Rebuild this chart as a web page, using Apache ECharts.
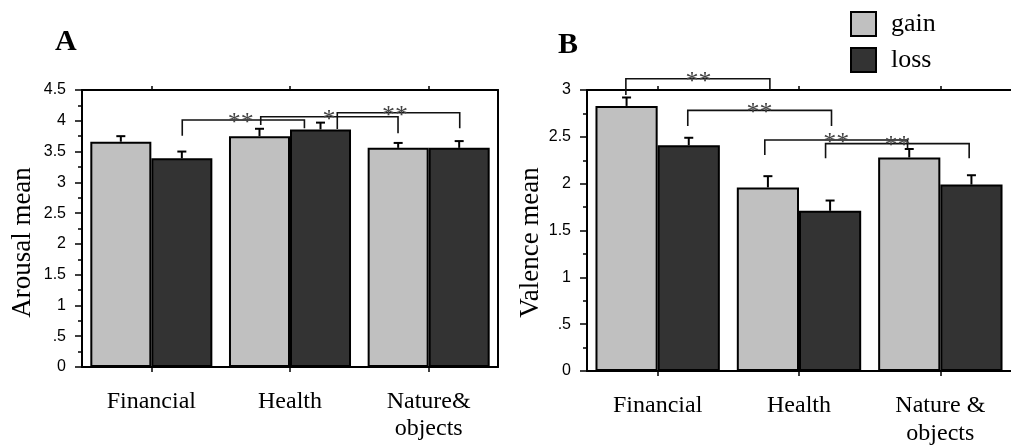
<!DOCTYPE html>
<html>
<head>
<meta charset="utf-8">
<script src="https://cdn.jsdelivr.net/npm/echarts@6/dist/echarts.min.js"></script>
<style>
  html, body { margin: 0; padding: 0; background: #fff; }
  #chart { width: 1011px; height: 448px; }
</style>
</head>
<body>
<div id="chart"></div>
<script>
// Categories for the two panels
const categoriesA = ['Financial', 'Health', 'Nature&\nobjects'];
const categoriesB = ['Financial', 'Health', 'Nature &\nobjects'];
const seriesNames = ['gain', 'loss'];

// Panel A: arousal means and upper error bars
const arousalGain = [3.66, 3.75, 3.56];
const arousalLoss = [3.39, 3.86, 3.56];
const arousalGainErr = [0.09, 0.12, 0.08];
const arousalLossErr = [0.11, 0.11, 0.11];

// Panel B: valence means and upper error bars
const valenceGain = [2.83, 1.96, 2.28];
const valenceLoss = [2.41, 1.71, 1.99];
const valenceGainErr = [0.09, 0.12, 0.09];
const valenceLossErr = [0.08, 0.11, 0.10];

// Y axis ranges
const arousalMax = 4.5;
const valenceMax = 3;
const tickStep = 0.5;

// Significance brackets: [x start, x end, bar height, left leg end, right leg end, label x]
// x in category units (0 = first category centre)
const bracketsA = [
  [0.223, 1.104, 4.012, 3.757, 3.878, 0.644],
  [0.789, 1.779, 4.066, 3.931, 3.796, 1.281],
  [1.341, 2.224, 4.131, 3.866, 3.878, 1.757]
];
const bracketLabelsA = ['**', '*', '**'];
const bracketsB = [
  [-0.225, 0.794, 3.120, 2.947, 3.000, 0.289],
  [0.213, 1.230, 2.783, 2.616, 2.616, 0.720],
  [0.758, 1.768, 2.466, 2.306, 2.373, 1.263],
  [1.188, 2.204, 2.427, 2.271, 2.271, 1.697]
];
const bracketLabelsB = ['**', '**', '**', '**'];

const GAIN_COLOR = '#c0c0c0';
const LOSS_COLOR = '#333333';
const SERIF = 'Liberation Serif';
const SANS = 'Liberation Sans';
const CAT_GAP = 0.12;
const barOffset = (1 - CAT_GAP) / 4;   // centre of each bar within its category

const chart = echarts.init(document.getElementById('chart'), null, { renderer: 'canvas' });

function tickLabel(v) {
  if (v === 0) return '0';
  return v < 1 ? String(v).replace(/^0/, '') : String(v);
}

function valueAxis(gridIndex, max, name, nameGap, nameShift) {
  return {
    type: 'value', gridIndex, min: 0, max, interval: tickStep, position: 'left',
    name, nameLocation: 'middle', nameGap,
    nameTextStyle: { fontFamily: SERIF, fontSize: 27, color: '#000', padding: [0, nameShift, 0, 0] },
    axisLine: { show: true, onZero: false, lineStyle: { color: '#000', width: 2 } },
    axisTick: { show: true, length: 7, lineStyle: { color: '#000', width: 1.5 } },
    minorTick: { show: true, splitNumber: 2, length: 4, lineStyle: { color: '#000', width: 1.5 } },
    axisLabel: { fontFamily: SANS, fontSize: 16, color: '#000', margin: 16, formatter: tickLabel },
    splitLine: { show: false }
  };
}
function rightAxis(gridIndex, max, showLine) {
  return {
    type: 'value', gridIndex, min: 0, max, interval: tickStep, position: 'right',
    axisLine: { show: showLine, onZero: false, lineStyle: { color: '#000', width: 2 } },
    axisTick: { show: false }, axisLabel: { show: false }, splitLine: { show: false }
  };
}
function categoryAxis(gridIndex, data, position, lineHeight, margin) {
  const bottom = position === 'bottom';
  return {
    type: 'category', gridIndex, data, position,
    axisLine: { show: true, onZero: false, lineStyle: { color: '#000', width: 2 } },
    axisTick: { show: true, alignWithLabel: true, length: bottom ? 5 : 4, lineStyle: { color: '#000', width: 1.5 } },
    axisLabel: bottom
      ? { fontFamily: SERIF, fontSize: 24, color: '#000', margin, lineHeight }
      : { show: false },
    splitLine: { show: false }
  };
}
function hiddenAxis(gridIndex) {
  return { type: 'value', gridIndex, min: -0.5, max: 2.5, show: false,
           axisLine: { onZero: false } };
}

function barSeries(name, data, color, xIdx, yIdx) {
  return {
    type: 'bar', name, data, xAxisIndex: xIdx, yAxisIndex: yIdx,
    barGap: '0%', barCategoryGap: (CAT_GAP * 100) + '%',
    itemStyle: { color, borderColor: '#000', borderWidth: 2 },
    emphasis: { disabled: true }, z: 2
  };
}

function errorSeries(values, errs, offset, xIdx, yIdx) {
  return {
    type: 'custom', xAxisIndex: xIdx, yAxisIndex: yIdx, z: 3, silent: true,
    data: values.map((v, i) => [i + offset, v, errs[i]]),
    renderItem(params, api) {
      const x = api.value(0), v = api.value(1), e = api.value(2);
      const p0 = api.coord([x, v]);
      const p1 = api.coord([x, v + e]);
      const st = { stroke: '#000', lineWidth: 2 };
      return {
        type: 'group', children: [
          { type: 'line', shape: { x1: p0[0], y1: p0[1], x2: p1[0], y2: p1[1] }, style: st },
          { type: 'line', shape: { x1: p1[0] - 4.5, y1: p1[1], x2: p1[0] + 4.5, y2: p1[1] }, style: st }
        ]
      };
    }
  };
}

function bracketSeries(rows, labels, xIdx, yIdx) {
  return {
    type: 'custom', xAxisIndex: xIdx, yAxisIndex: yIdx, z: 4, silent: true,
    data: rows,
    renderItem(params, api) {
      const x1 = api.value(0), x2 = api.value(1), top = api.value(2);
      const l = api.value(3), r = api.value(4), lx = api.value(5);
      const a = api.coord([x1, l]), b = api.coord([x1, top]);
      const c = api.coord([x2, top]), d = api.coord([x2, r]);
      const t = api.coord([lx, top]);
      return {
        type: 'group', children: [
          { type: 'polyline', shape: { points: [a, b, c, d] },
            style: { stroke: '#111', lineWidth: 1.6, fill: null } },
          { type: 'text', x: t[0], y: t[1] + 3,
            style: { text: labels[params.dataIndex], fill: '#444', fontFamily: SERIF, fontSize: 26,
                     align: 'center', verticalAlign: 'middle' } }
        ]
      };
    }
  };
}

const option = {
  animation: false,
  backgroundColor: '#fff',
  title: [
    { text: 'A', left: 55, top: 27, padding: 0,
      textStyle: { fontFamily: SERIF, fontWeight: 'bold', fontSize: 30, color: '#000' } },
    { text: 'B', left: 558, top: 30, padding: 0,
      textStyle: { fontFamily: SERIF, fontWeight: 'bold', fontSize: 30, color: '#000' } }
  ],
  legend: {
    data: seriesNames, orient: 'vertical', left: 850, top: 11, padding: 0,
    itemWidth: 25, itemHeight: 24, itemGap: 10,
    icon: 'rect',
    itemStyle: { borderColor: '#000', borderWidth: 2 },
    textStyle: { fontFamily: SERIF, fontSize: 26, color: '#000', padding: [0, 0, 0, 10] },
    selectedMode: false
  },
  grid: [
    { left: 82, top: 90, width: 416, height: 277 },
    { left: 587, top: 90, width: 426, height: 281 }
  ],
  xAxis: [
    categoryAxis(0, categoriesA, 'bottom', 27, 21),
    categoryAxis(0, categoriesA, 'top'),
    hiddenAxis(0),
    categoryAxis(1, categoriesB, 'bottom', 28, 21),
    categoryAxis(1, categoriesB, 'top'),
    hiddenAxis(1)
  ],
  yAxis: [
    valueAxis(0, arousalMax, 'Arousal mean', 46, 28),
    rightAxis(0, arousalMax, true),
    valueAxis(1, valenceMax, 'Valence mean', 40, 24),
    rightAxis(1, valenceMax, false)
  ],
  series: [
    barSeries('gain', arousalGain, GAIN_COLOR, 0, 0),
    barSeries('loss', arousalLoss, LOSS_COLOR, 0, 0),
    errorSeries(arousalGain, arousalGainErr, -barOffset, 2, 0),
    errorSeries(arousalLoss, arousalLossErr, barOffset, 2, 0),
    bracketSeries(bracketsA, bracketLabelsA, 2, 0),
    barSeries('gain', valenceGain, GAIN_COLOR, 3, 2),
    barSeries('loss', valenceLoss, LOSS_COLOR, 3, 2),
    errorSeries(valenceGain, valenceGainErr, -barOffset, 5, 2),
    errorSeries(valenceLoss, valenceLossErr, barOffset, 5, 2),
    bracketSeries(bracketsB, bracketLabelsB, 5, 2)
  ]
};
chart.setOption(option);
</script>
</body>
</html>
